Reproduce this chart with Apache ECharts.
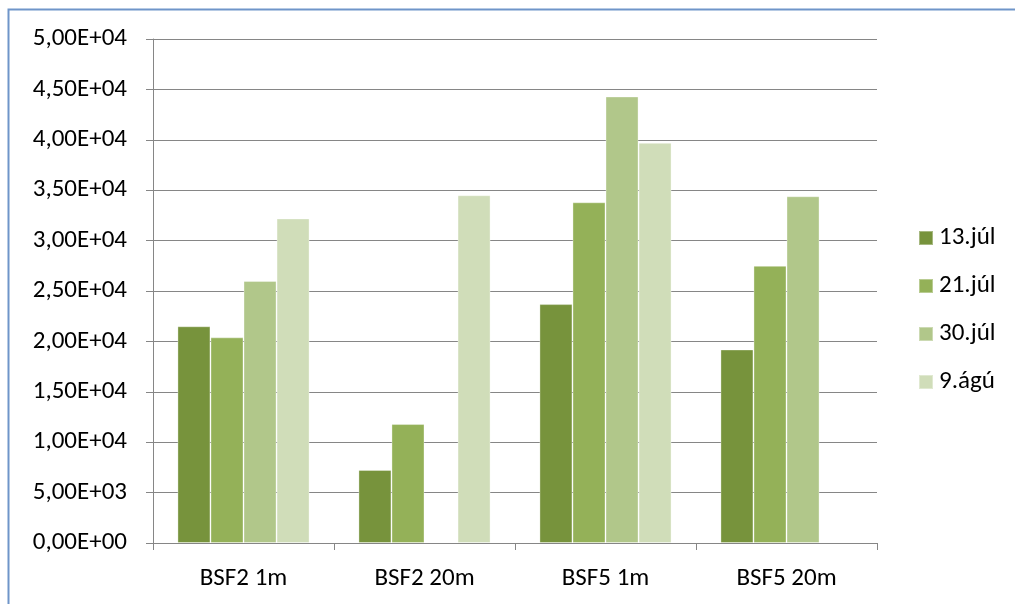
<!DOCTYPE html>
<html>
<head>
<meta charset="utf-8">
<script src="https://cdn.jsdelivr.net/npm/echarts@6/dist/echarts.min.js"></script>
<style>
html,body{margin:0;padding:0;background:#fff;}
#c{width:1015px;height:604px;}
</style>
</head>
<body>
<div id="c"></div>
<script>
var categories = ['BSF2 1m', 'BSF2 20m', 'BSF5 1m', 'BSF5 20m'];
var seriesNames = ['13.júl', '21.júl', '30.júl', '9.ágú'];
var jul13 = [21500, 7250, 23700, 19200];
var jul21 = [20400, 11800, 33800, 27500];
var jul30 = [26000, null, 44300, 34400];
var agu9 = [32200, 34500, 39700, null];
var yTicks = { min: 0, max: 50000, interval: 5000 };
var colors = ['#77933C', '#94B158', '#B1C78A', '#D0DDB9'];

function sci(v) {
  if (v === 0) return '0,00E+00';
  var e = Math.floor(Math.log10(v));
  var m = v / Math.pow(10, e);
  if (m >= 9.995) { m = m / 10; e += 1; }
  var es = (e < 0 ? '-' : '+') + (Math.abs(e) < 10 ? '0' : '') + Math.abs(e);
  return m.toFixed(2).replace('.', ',') + 'E' + es;
}

var data = [jul13, jul21, jul30, agu9];
var font = 'Carlito, Calibri, "Open Sans", "Noto Sans", sans-serif';
var fs = 25;
var chart = echarts.init(document.getElementById('c'));
chart.setOption({
  animation: false,
  textStyle: { fontFamily: font },
  graphic: [{
    type: 'rect',
    shape: { x: 8.5, y: 9.5, width: 1100, height: 700 },
    style: { fill: 'none', stroke: '#6f95c9', lineWidth: 2 },
    silent: true
  }],
  grid: { left: 153, right: 138, top: 39, bottom: 61 },
  legend: {
    orient: 'vertical',
    left: 918,
    top: 225,
    padding: 0,
    itemWidth: 14,
    itemHeight: 14,
    itemGap: 22,
    icon: 'rect',
    textStyle: { fontSize: fs, lineHeight: 26, color: '#000', fontFamily: font, padding: [0, 0, 0, 1] },
    data: seriesNames
  },
  xAxis: {
    type: 'category',
    data: categories,
    axisLine: { lineStyle: { color: '#868686', width: 1 } },
    axisTick: { show: true, length: 7, alignWithLabel: false, lineStyle: { color: '#868686' } },
    axisLabel: { fontSize: fs, color: '#000', margin: 23, fontFamily: font },
    splitLine: { show: false }
  },
  yAxis: {
    type: 'value',
    min: yTicks.min,
    max: yTicks.max,
    interval: yTicks.interval,
    axisLine: { show: true, lineStyle: { color: '#868686', width: 1 } },
    axisTick: { show: true, length: 7, lineStyle: { color: '#868686' } },
    axisLabel: { fontSize: fs, color: '#000', margin: 26, formatter: sci, fontFamily: font },
    splitLine: { show: true, lineStyle: { color: '#868686', width: 1 } }
  },
  series: seriesNames.map(function (n, i) {
    return {
      name: n,
      type: 'bar',
      data: data[i],
      barGap: '0%',
      barCategoryGap: '27%',
      itemStyle: { color: colors[i], borderColor: 'rgba(255,255,255,0.35)', borderWidth: 1 }
    };
  })
});
</script>
</body>
</html>
